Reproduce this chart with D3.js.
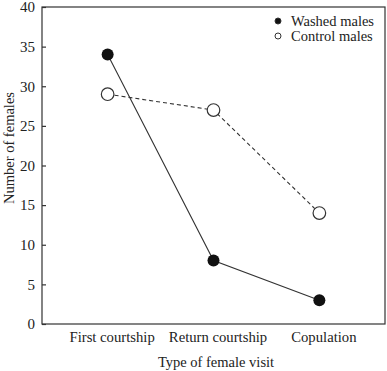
<!DOCTYPE html>
<html>
<head>
<meta charset="utf-8">
<script src="https://cdn.jsdelivr.net/npm/d3@7"></script>
<style>
  body { margin: 0; background: #fff; }
  svg { display: block; }
  text { font-family: "Liberation Serif", "Times New Roman", serif; fill: #222; }
</style>
</head>
<body>
<svg id="chart" width="387" height="371"></svg>
<script>
const categories = ["First courtship", "Return courtship", "Copulation"];
const washed = [34, 8, 3];
const control = [29, 27, 14];
const yTicks = [0, 5, 10, 15, 20, 25, 30, 35, 40];
const seriesNames = ["Washed males", "Control males"];

const svg = d3.select("#chart");
const L = 42, R = 385, T = 7, B = 324;
const x = d3.scalePoint().domain(categories).range([L, R]).padding(0.62);
const y = d3.scaleLinear().domain([0, 40]).range([B, T]);
const col = "#333";
const serif = '"Liberation Serif", "Times New Roman", serif';

// frame
svg.append("rect").attr("x", L).attr("y", T).attr("width", R - L).attr("height", B - T)
  .attr("fill", "none").attr("stroke", col).attr("stroke-width", 1.2);

// y axis
const yAxis = svg.append("g").attr("transform", `translate(${L},0)`)
  .call(d3.axisLeft(y).tickValues(yTicks).tickSizeInner(-4).tickSizeOuter(0).tickPadding(7))
  .attr("font-family", serif).attr("font-size", 15);
yAxis.select(".domain").remove();
yAxis.selectAll("line").attr("stroke", col).attr("stroke-width", 1.2);
yAxis.selectAll("text").attr("fill", "#222");

// x axis labels
const xAxis = svg.append("g").attr("transform", `translate(0,${B})`)
  .call(d3.axisBottom(x).tickSize(0).tickPadding(8))
  .attr("font-family", serif).attr("font-size", 14.7);
xAxis.select(".domain").remove();
xAxis.selectAll("text").attr("fill", "#222").attr("dx", 4);

// axis titles
svg.append("text").attr("x", 216).attr("y", 367).attr("text-anchor", "middle")
  .style("font-size", "14.5px").text("Type of female visit");
svg.append("text").attr("transform", "translate(14,148) rotate(-90)").attr("text-anchor", "middle")
  .style("font-size", "14.5px").text("Number of females");

const line = d3.line().x((d, i) => x(categories[i])).y(d => y(d));

svg.append("path").datum(control).attr("d", line).attr("fill", "none")
  .attr("stroke", col).attr("stroke-width", 1.1).attr("stroke-dasharray", "4,3");
svg.append("path").datum(washed).attr("d", line).attr("fill", "none")
  .attr("stroke", col).attr("stroke-width", 1.1);

svg.selectAll(".c").data(control).enter().append("circle")
  .attr("cx", (d, i) => x(categories[i])).attr("cy", d => y(d)).attr("r", 6.3)
  .attr("fill", "#fff").attr("stroke", col).attr("stroke-width", 1.2);
svg.selectAll(".w").data(washed).enter().append("circle")
  .attr("cx", (d, i) => x(categories[i])).attr("cy", d => y(d)).attr("r", 6)
  .attr("fill", "#111");

// legend
const leg = svg.append("g");
seriesNames.forEach((n, i) => {
  const yy = 21 + i * 15;
  leg.append("circle").attr("cx", 278).attr("cy", yy).attr("r", 3)
    .attr("fill", i === 0 ? "#111" : "#fff").attr("stroke", col).attr("stroke-width", 1);
  leg.append("text").attr("x", 291).attr("y", yy + 4.5).style("font-size", "14.5px").text(n);
});
</script>
</body>
</html>
